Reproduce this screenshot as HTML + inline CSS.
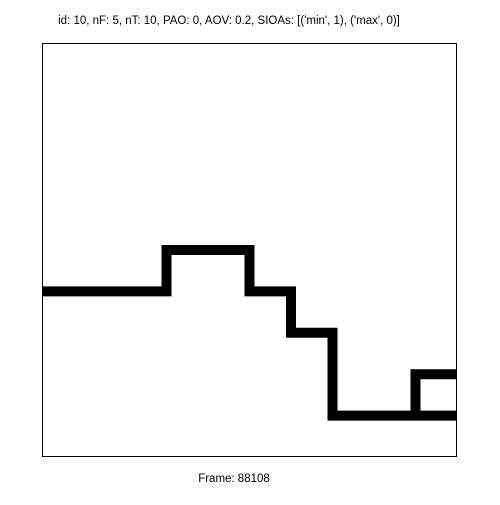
<!DOCTYPE html>
<html><head><meta charset="utf-8"><style>
body{margin:0;background:#fff;}
svg text{font-family:"Liberation Sans",sans-serif;font-size:11.5px;fill:#000;}
</style></head><body>
<svg width="500" height="500" viewBox="0 0 500 500">
<rect x="0" y="0" width="500" height="500" fill="#fff"/>
<text x="229" y="24" text-anchor="middle">id: 10, nF: 5, nT: 10, PAO: 0, AOV: 0.2, SIOAs: [('min', 1), ('max', 0)]</text>
<defs><clipPath id="plotclip"><rect x="42" y="43" width="415" height="414"/></clipPath></defs>
<g id="series" clip-path="url(#plotclip)"></g>
<rect x="42.5" y="43.5" width="414" height="413" fill="none" stroke="#000" stroke-width="1"/>
<text x="234" y="482" text-anchor="middle">Frame: 88108</text>
</svg>
<script>
const series1X = [0, 3, 3, 5, 5, 6, 6, 7, 7, 10];
const series1Y = [4, 4, 5, 5, 4, 4, 3, 3, 1, 1];
const series2X = [9, 9, 10];
const series2Y = [1, 2, 2];
const xDomain = [0, 10];
const yDomain = [0, 10];
const px0 = 42, px1 = 457, py0 = 457, py1 = 43;
function xs(v){return px0 + (v - xDomain[0]) / (xDomain[1] - xDomain[0]) * (px1 - px0);}
function ys(v){return py0 - (v - yDomain[0]) / (yDomain[1] - yDomain[0]) * (py0 - py1);}
const g = document.getElementById('series');
function draw(xArr, yArr, name){
  const pts = xArr.map((x, i) => xs(x) + ',' + ys(yArr[i])).join(' ');
  const pl = document.createElementNS('http://www.w3.org/2000/svg', 'polyline');
  pl.setAttribute('points', pts);
  pl.setAttribute('fill', 'none');
  pl.setAttribute('stroke', '#000');
  pl.setAttribute('stroke-width', '10');
  pl.setAttribute('stroke-linejoin', 'miter');
  pl.setAttribute('stroke-linecap', 'butt');
  
  
  g.appendChild(pl);
}
draw(series1X, series1Y, 'series-1-line');
draw(series2X, series2Y, 'series-2-line');
</script>
</body></html>
